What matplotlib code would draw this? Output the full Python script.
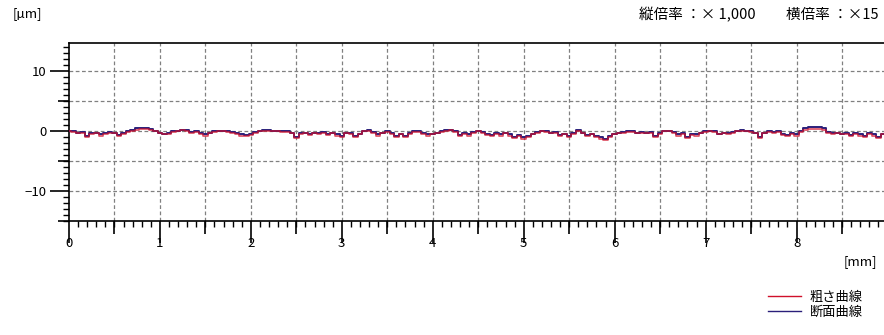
import matplotlib
matplotlib.use('Agg')
from matplotlib import pyplot as plt
from matplotlib.ticker import MultipleLocator, FixedLocator, NullFormatter
import numpy as np

plt.rcParams['font.family'] = ['Noto Sans CJK JP', 'DejaVu Sans']

# position along the sample [mm], sampled every 0.05 mm
x_mm = np.round(np.arange(0, 9.0, 0.05), 2)

# 断面曲線 (profile curve) [µm]
profile = [0.0, -0.1, -0.3, -0.2, -0.9, -0.4, -0.3, -0.6, -0.4, -0.2,
           -0.3, -0.7, -0.4, -0.1, 0.1, 0.4, 0.5, 0.5, 0.3, 0.0,
           -0.3, -0.5, -0.4, -0.1, 0.0, 0.2, 0.1, -0.2, -0.1, -0.4,
           -0.6, -0.3, -0.1, 0.0, 0.0, -0.1, -0.2, -0.4, -0.6, -0.7,
           -0.5, -0.2, 0.0, 0.1, 0.1, 0.0, 0.0, -0.1, -0.1, -0.3,
           -1.0, -0.4, -0.3, -0.5, -0.3, -0.4, -0.2, -0.5, -0.3, -0.6,
           -0.8, -0.3, -0.4, -0.9, -0.5, 0.0, 0.1, -0.2, -0.6, -0.3,
           -0.1, -0.4, -0.8, -0.5, -0.9, -0.4, -0.1, -0.1, -0.4, -0.6,
           -0.5, -0.3, -0.1, 0.1, 0.2, -0.1, -0.7, -0.4, -0.6, -0.2,
           0.0, -0.2, -0.5, -0.7, -0.4, -0.6, -0.3, -0.6, -1.0, -0.7,
           -1.1, -0.8, -0.5, -0.2, 0.0, -0.1, -0.3, -0.2, -0.7, -0.5,
           -0.9, -0.4, 0.1, -0.3, -0.7, -0.5, -0.9, -1.1, -1.4, -0.8,
           -0.5, -0.3, -0.2, -0.1, -0.1, -0.3, -0.2, -0.3, -0.2, -0.9,
           -0.4, 0.0, 0.0, -0.2, -0.6, -0.4, -1.0, -0.5, -0.6, -0.3,
           -0.1, 0.0, -0.1, -0.5, -0.3, -0.4, -0.2, 0.0, 0.1, 0.0,
           -0.1, -0.3, -1.0, -0.3, -0.1, -0.2, -0.1, -0.5, -0.7, -0.4,
           -0.6, -0.1, 0.4, 0.6, 0.6, 0.6, 0.4, -0.2, -0.4, -0.3,
           -0.5, -0.4, -0.7, -0.4, -0.6, -0.9, -0.4, -0.6, -1.0, -0.5]

# 粗さ曲線 (roughness curve) [µm]
roughness = [-0.1, -0.2, -0.4, -0.3, -1.1, -0.6, -0.4, -0.8, -0.5, -0.3,
             -0.4, -0.9, -0.5, -0.2, 0.0, 0.2, 0.3, 0.3, 0.1, -0.1,
             -0.4, -0.6, -0.5, -0.2, -0.1, 0.1, 0.0, -0.3, -0.2, -0.5,
             -0.8, -0.4, -0.2, -0.1, -0.1, -0.2, -0.3, -0.6, -0.8, -0.9,
             -0.7, -0.3, -0.1, 0.0, 0.0, -0.1, -0.1, -0.2, -0.2, -0.4,
             -1.2, -0.5, -0.4, -0.7, -0.4, -0.5, -0.3, -0.7, -0.4, -0.8,
             -1.0, -0.4, -0.5, -1.1, -0.6, -0.1, 0.0, -0.3, -0.8, -0.4,
             -0.2, -0.5, -1.0, -0.6, -1.1, -0.5, -0.2, -0.2, -0.5, -0.8,
             -0.6, -0.4, -0.2, 0.0, 0.1, -0.2, -0.9, -0.5, -0.8, -0.3,
             -0.1, -0.3, -0.7, -0.9, -0.5, -0.8, -0.4, -0.8, -1.2, -0.9,
             -1.3, -1.0, -0.6, -0.3, -0.1, -0.2, -0.4, -0.3, -0.9, -0.6,
             -1.1, -0.5, 0.0, -0.4, -0.9, -0.6, -1.1, -1.3, -1.6, -1.0,
             -0.6, -0.4, -0.3, -0.2, -0.2, -0.4, -0.3, -0.4, -0.3, -1.1,
             -0.5, -0.1, -0.1, -0.3, -0.8, -0.5, -1.2, -0.7, -0.8, -0.4,
             -0.2, -0.1, -0.2, -0.6, -0.4, -0.5, -0.3, -0.1, 0.0, -0.1,
             -0.2, -0.4, -1.2, -0.4, -0.2, -0.3, -0.2, -0.7, -0.9, -0.5,
             -0.8, -0.2, 0.2, 0.3, 0.3, 0.3, 0.2, -0.3, -0.5, -0.4,
             -0.6, -0.5, -0.9, -0.5, -0.8, -1.1, -0.5, -0.8, -1.2, -0.6]

x_major = [0, 1, 2, 3, 4, 5, 6, 7, 8]
x_mid = [0.5, 1.5, 2.5, 3.5, 4.5, 5.5, 6.5, 7.5, 8.5]
y_major = [-10, 0, 10]
y_mid = [-15, -5, 5]

fig = plt.figure(figsize=(8.84, 3.35), dpi=100)
ax = fig.add_axes([0.078, 0.341, 0.926, 0.5315])

ax.plot(x_mm, profile, color='#2a1f7a', lw=1.4, drawstyle='steps-mid', label='断面曲線', zorder=3)
ax.plot(x_mm, roughness, color='#d0102a', lw=1.2, drawstyle='steps-mid', alpha=0.75, label='粗さ曲線', zorder=4)

ax.set_xlim(0, 9)
ax.set_ylim(-15, 14.7)

# grid
for gx in x_major[1:] + x_mid:
    ax.axvline(gx, color='#808080', lw=0.9, ls=(0, (3, 2)), zorder=1)
for gy in [-10, -5, 0, 5, 10]:
    ax.axhline(gy, color='#808080', lw=0.9, ls=(0, (3, 2)), zorder=1)

ax.spines['right'].set_visible(False)
for s in ['top', 'left', 'bottom']:
    ax.spines[s].set_linewidth(1.2)

ax.xaxis.set_major_locator(FixedLocator(x_major))
ax.xaxis.set_minor_locator(MultipleLocator(0.1))
ax.yaxis.set_major_locator(FixedLocator(y_major))
ax.yaxis.set_minor_locator(MultipleLocator(1))
ax.tick_params(axis='x', which='major', direction='out', length=16, width=1.2, pad=-4, labelsize=9.5)
ax.tick_params(axis='x', which='minor', direction='out', length=4, width=1)
ax.tick_params(axis='y', which='major', direction='out', length=14, width=1.2, pad=2, labelsize=9.5)
ax.tick_params(axis='y', which='minor', direction='out', length=4, width=1)

# medium ticks at half steps
secx = ax.secondary_xaxis('bottom')
secx.set_xticks(x_mid)
secx.xaxis.set_major_formatter(NullFormatter())
secx.tick_params(length=9, width=1.2)
secx.spines['bottom'].set_visible(False)
secy = ax.secondary_yaxis('left')
secy.set_yticks(y_mid)
secy.yaxis.set_major_formatter(NullFormatter())
secy.tick_params(length=8, width=1.2)
secy.spines['left'].set_visible(False)

fig.text(13 / 884, 1 - 14 / 335, '[µm]', fontsize=9.5, ha='left', va='center')
fig.text(877 / 884, 1 - 262 / 335, '[mm]', fontsize=9.5, ha='right', va='center')
fig.text(756 / 884, 1 - 15 / 335, '縦倍率 ：× 1,000', fontsize=10.5, ha='right', va='center')
fig.text(878 / 884, 1 - 15 / 335, '横倍率 ：×15', fontsize=10.5, ha='right', va='center')

handles, labels = ax.get_legend_handles_labels()
leg = fig.legend(handles[::-1], labels[::-1], loc='center left', bbox_to_anchor=(761 / 884, 1 - 305 / 335),
                 frameon=False, fontsize=9.5, handlelength=2.5, handletextpad=0.7, labelspacing=0.15,
                 borderpad=0)
for h in leg.get_lines():
    h.set_linewidth(1.0)
    h.set_alpha(1.0)

fig.savefig('out.png', dpi=100)
